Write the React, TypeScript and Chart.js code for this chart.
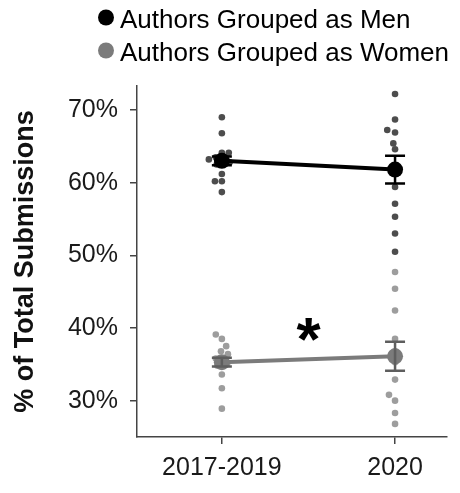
import { useEffect, useRef } from "react";
import { Chart, registerables } from "chart.js";

Chart.register(...registerables);

const categories = ["2017-2019", "2020"];
const yTickValues = [30, 40, 50, 60, 70];
const seriesNames = ["Authors Grouped as Men", "Authors Grouped as Women"];

const menMeans = [63.0, 61.8];
const menErrors = [0.6, 1.9];
const womenMeans = [35.3, 36.1];
const womenErrors = [0.6, 2.0];

// individual submissions (value, small horizontal jitter in category units)
const men1719 = [69.0, 66.8, 64.1, 64.1, 63.2, 63.5, 62.8, 62.5, 63.0, 61.2, 60.2, 60.2, 58.7];
const men1719Jitter = [0, 0, 0, 0.04, -0.075, -0.035, 0.045, -0.03, 0.025, 0, -0.04, 0, 0];
const men2020 = [72.2, 68.7, 67.25, 66.9, 65.4, 64.6, 61.5, 59.4, 57.1, 55.3, 53.0, 50.5];
const men2020Jitter = [0, 0, -0.045, 0, -0.01, 0, 0, 0, 0, 0, 0, 0];
const women1719 = [39.1, 38.5, 37.5, 36.8, 36.4, 35.8, 35.0, 34.8, 33.6, 31.7, 28.9];
const women1719Jitter = [-0.035, 0, 0.025, -0.005, 0.035, -0.035, 0.03, -0.025, 0, 0, 0];
const women2020 = [47.7, 45.4, 42.4, 38.5, 36.8, 35.3, 32.9, 30.8, 30.0, 28.3, 26.8];
const women2020Jitter = [0, 0, 0, 0, 0, 0, 0, -0.035, 0, 0, 0];

const significanceX = 0.5;
const significanceY = 39.8;

const FONT = "'Liberation Sans', Arial, Helvetica, sans-serif";
const MEN_DOT = "#4d4d4d";
const WOMEN_DOT = "#9d9d9d";
const MEN_MEAN = "#000000";
const WOMEN_MEAN = "#7b7b7b";
const WOMEN_BAR = "#5e5e5e";

function points(values: number[], jitter: number[], cat: number) {
  return values.map((v, i) => ({ x: cat + jitter[i], y: v }));
}

const errorBarPlugin = {
  id: "errorBars",
  afterDatasetsDraw(chart: any) {
    const { ctx, scales } = chart;
    const xs = scales.x;
    const ys = scales.y;
    const groups = [
      { means: menMeans, errs: menErrors, color: MEN_MEAN },
      { means: womenMeans, errs: womenErrors, color: WOMEN_BAR },
    ];
    ctx.save();
    groups.forEach((g) => {
      ctx.strokeStyle = g.color;
      ctx.lineWidth = 2.5;
      g.means.forEach((m, i) => {
        const x = xs.getPixelForValue(i);
        const top = ys.getPixelForValue(m + g.errs[i]);
        const bot = ys.getPixelForValue(m - g.errs[i]);
        ctx.beginPath();
        ctx.moveTo(x, top);
        ctx.lineTo(x, bot);
        ctx.moveTo(x - 10, top);
        ctx.lineTo(x + 10, top);
        ctx.moveTo(x - 10, bot);
        ctx.lineTo(x + 10, bot);
        ctx.stroke();
      });
    });
    // significance marker
    ctx.fillStyle = "#000";
    ctx.font = `bold 62px ${FONT}`;
    ctx.textAlign = "center";
    ctx.textBaseline = "alphabetic";
    const m = ctx.measureText("*");
    const cx = xs.getPixelForValue(significanceX);
    const cy = ys.getPixelForValue(significanceY);
    const base = cy + (m.actualBoundingBoxAscent - m.actualBoundingBoxDescent) / 2;
    ctx.fillText("*", cx, base);
    ctx.restore();
  },
};

const legendPlugin = {
  id: "customLegend",
  afterDraw(chart: any) {
    const { ctx } = chart;
    const colors = [MEN_MEAN, WOMEN_MEAN];
    ctx.save();
    seriesNames.forEach((name, i) => {
      const baseY = 27.5 + i * 33;
      ctx.fillStyle = colors[i];
      ctx.beginPath();
      ctx.arc(106, baseY - 10, 8, 0, Math.PI * 2);
      ctx.fill();
      ctx.fillStyle = "#000";
      ctx.font = `26px ${FONT}`;
      ctx.textAlign = "left";
      ctx.textBaseline = "alphabetic";
      ctx.fillText(name, 120, baseY);
    });
    ctx.restore();
  },
};

export default function App() {
  const ref = useRef<HTMLCanvasElement | null>(null);

  useEffect(() => {
    if (!ref.current) return;
    const chart = new Chart(ref.current, {
      type: "scatter",
      data: {
        datasets: [
          {
            type: "line",
            label: seriesNames[0],
            data: menMeans.map((m, i) => ({ x: i, y: m })),
            borderColor: MEN_MEAN,
            backgroundColor: MEN_MEAN,
            borderWidth: 4,
            pointRadius: 8,
            pointBackgroundColor: MEN_MEAN,
            pointBorderWidth: 0,
          } as any,
          {
            type: "line",
            label: seriesNames[1],
            data: womenMeans.map((m, i) => ({ x: i, y: m })),
            borderColor: WOMEN_MEAN,
            backgroundColor: WOMEN_MEAN,
            borderWidth: 4,
            pointRadius: 8,
            pointBackgroundColor: WOMEN_MEAN,
            pointBorderWidth: 0,
          } as any,
          {
            label: "men points",
            data: [...points(men1719, men1719Jitter, 0), ...points(men2020, men2020Jitter, 1)],
            backgroundColor: MEN_DOT,
            borderWidth: 0,
            pointRadius: 3.3,
          },
          {
            label: "women points",
            data: [...points(women1719, women1719Jitter, 0), ...points(women2020, women2020Jitter, 1)],
            backgroundColor: WOMEN_DOT,
            borderWidth: 0,
            pointRadius: 3.3,
          },
        ],
      },
      options: {
        animation: false,
        responsive: false,
        maintainAspectRatio: false,
        layout: { padding: { top: 86, right: 13, left: 0, bottom: 0 } },
        plugins: {
          legend: { display: false },
          tooltip: { enabled: false },
        },
        scales: {
          x: {
            type: "linear",
            min: -0.49,
            max: 1.3,
            afterBuildTicks: (scale: any) => {
              scale.ticks = categories.map((_, i) => ({ value: i }));
            },
            afterFit: (scale: any) => {
              scale.height = 56;
            },
            ticks: {
              callback: (v: any) => categories[v] ?? "",
              font: { family: FONT, size: 25 },
              color: "#1a1a1a",
              padding: 9,
              maxRotation: 0,
              autoSkip: false,
            },
            grid: { drawOnChartArea: false, drawTicks: true, tickLength: 7, color: "#444", lineWidth: 1.5 },
            border: { display: true, color: "#444", width: 1.5 },
          },
          y: {
            type: "linear",
            min: 25,
            max: 73.3,
            afterBuildTicks: (scale: any) => {
              scale.ticks = yTickValues.map((v) => ({ value: v }));
            },
            afterFit: (scale: any) => {
              scale.width = 137;
            },
            ticks: {
              callback: (v: any) => `${v}%`,
              font: { family: FONT, size: 25 },
              color: "#1a1a1a",
              padding: 12,
            },
            grid: { drawOnChartArea: false, drawTicks: true, tickLength: 7, color: "#444", lineWidth: 1.5 },
            border: { display: true, color: "#444", width: 1.5 },
            title: {
              display: true,
              text: "% of Total Submissions",
              font: { family: FONT, size: 27, weight: "bold" },
              color: "#111",
              padding: { top: 9, bottom: 0 },
            },
          },
        },
      },
      plugins: [errorBarPlugin, legendPlugin],
    });
    return () => chart.destroy();
  }, []);

  return (
    <div style={{ position: "absolute", left: 0, top: 0, width: 460, height: 493, background: "#fff" }}>
      <canvas ref={ref} width={460} height={493} style={{ width: 460, height: 493 }} />
    </div>
  );
}
